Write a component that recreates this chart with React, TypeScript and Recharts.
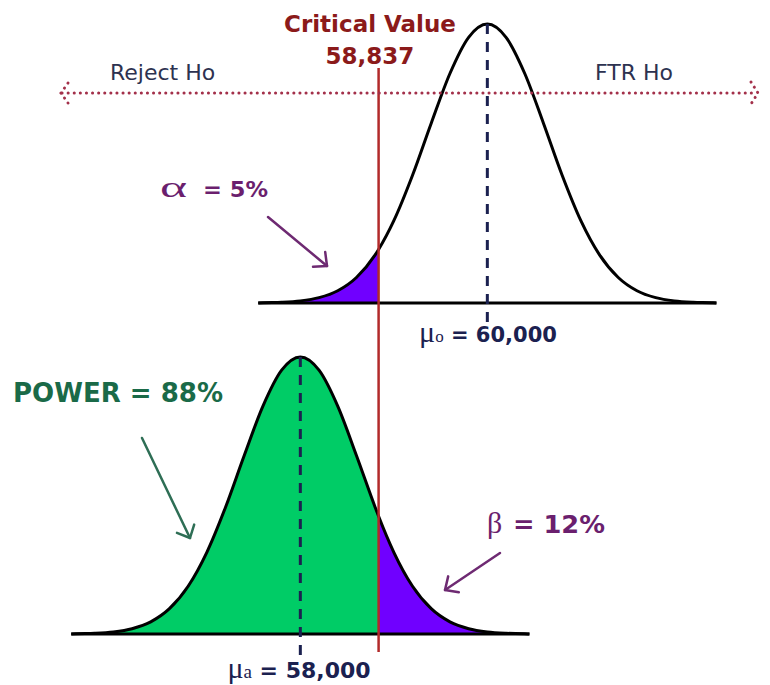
import { ComposedChart, Line, Area, XAxis, YAxis, ReferenceLine } from 'recharts';

// sample points (x in $, density as % of the peak)
const MU_0 = 60000;
const MU_A = 58000;
const CRITICAL = 58837;

const H0_X = [
  57550, 57600, 57800, 58000, 58200, 58400, 58600, 58800, 58837, 59000, 59200, 59400, 59600, 59800,
  60000, 60200, 60400, 60600, 60800, 61000, 61200, 61400, 61600, 61800, 62000, 62200, 62400, 62450,
];
const H0_DENSITY = [
  0, 0.09, 0.27, 0.76, 1.92, 4.39, 9.14, 17.24, 19.2, 29.5, 45.78, 64.44, 82.26, 95.23,
  100, 95.23, 82.26, 64.44, 45.78, 29.5, 17.24, 9.14, 4.39, 1.92, 0.76, 0.27, 0.09, 0,
];

const HA_X = [
  55550, 55600, 55800, 56000, 56200, 56400, 56600, 56800, 57000, 57200, 57400, 57600, 57800, 58000,
  58200, 58400, 58600, 58800, 58837, 59000, 59200, 59400, 59600, 59800, 60000, 60200, 60400, 60450,
];
const HA_DENSITY = [
  0, 0.09, 0.27, 0.76, 1.92, 4.39, 9.14, 17.24, 29.5, 45.78, 64.44, 82.26, 95.23, 100,
  95.23, 82.26, 64.44, 45.78, 42.5, 29.5, 17.24, 9.14, 4.39, 1.92, 0.76, 0.27, 0.09, 0,
];

const ALPHA_LABEL = '= 5%';
const BETA_LABEL = '= 12%';
const POWER_LABEL = 'POWER = 88%';

// layout (y values are counted up from the bottom of the 685px plot)
const W = 770;
const H = 685;
const TOP_BASE = 382;
const TOP_PEAK = 279;
const BOT_BASE = 51;
const BOT_PEAK = 277;

const PURPLE_FILL = '#7000ff';
const GREEN_FILL = '#00cc66';
const NAVY = '#1b2150';

const d0 = new Map(H0_X.map((x, i) => [x, H0_DENSITY[i]]));
const da = new Map(HA_X.map((x, i) => [x, HA_DENSITY[i]]));
const allX = Array.from(new Set([...H0_X, ...HA_X])).sort((a, b) => a - b);

const data = allX.map(x => {
  const top = d0.has(x) ? TOP_BASE + (d0.get(x) as number) * TOP_PEAK / 100 : null;
  const bot = da.has(x) ? BOT_BASE + (da.get(x) as number) * BOT_PEAK / 100 : null;
  return {
    x,
    top,
    bot,
    alpha: top !== null && x <= CRITICAL ? [TOP_BASE, top] : null,
    power: bot !== null && x <= CRITICAL ? [BOT_BASE, bot] : null,
    beta: bot !== null && x >= CRITICAL ? [BOT_BASE, bot] : null,
  };
});

function Arrow({ x1, y1, x2, y2, color }: { x1: number; y1: number; x2: number; y2: number; color: string }) {
  const a = Math.atan2(y1 - y2, x1 - x2);
  const len = 14;
  const spread = 0.75;
  const p1 = `${x2 + len * Math.cos(a + spread)},${y2 + len * Math.sin(a + spread)}`;
  const p2 = `${x2 + len * Math.cos(a - spread)},${y2 + len * Math.sin(a - spread)}`;
  return (
    <g stroke={color} strokeWidth={2.5} fill="none" strokeLinecap="round" strokeLinejoin="round">
      <line x1={x1} y1={y1} x2={x2} y2={y2} />
      <polyline points={`${p1} ${x2},${y2} ${p2}`} />
    </g>
  );
}

const sans = '"DejaVu Sans", Verdana, sans-serif';
const serif = '"Liberation Serif", "Times New Roman", serif';

function Annotations() {
  const dot = { stroke: '#a3304a', strokeWidth: 3, strokeDasharray: '0.1 6', strokeLinecap: 'round' as const, fill: 'none' };
  return (
    <svg width={W} height={H} style={{ position: 'absolute', left: 0, top: 0, pointerEvents: 'none' }}>
      <line x1={62} y1={93} x2={756} y2={93} {...dot} />
      <polyline points="751,82 758,93 751,104" {...dot} />
      <polyline points="68,83 61,93 68,103" {...dot} />

      <g fontFamily={sans} fontWeight="bold" fill="#8b1a1a" fontSize={23} textAnchor="middle">
        <text x={370} y={32}>Critical Value</text>
        <text x={370} y={64}>58,837</text>
      </g>

      <g fontFamily={sans} fill="#2d3250" fontSize={22}>
        <text x={110} y={80}>Reject Ho</text>
        <text x={595} y={80}>FTR Ho</text>
      </g>

      <g fill="#6b1f6e">
        <text x={160} y={197} fontFamily={serif} fontSize={30} textLength={27} lengthAdjust="spacingAndGlyphs">α</text>
        <text x={203} y={197} fontFamily={sans} fontWeight="bold" fontSize={22} textLength={65} lengthAdjust="spacingAndGlyphs">{ALPHA_LABEL}</text>
        <text x={487} y={533} fontFamily={serif} fontSize={30}>β</text>
        <text x={513} y={533} fontFamily={sans} fontWeight="bold" fontSize={25} textLength={92} lengthAdjust="spacingAndGlyphs">{BETA_LABEL}</text>
      </g>
      <Arrow x1={268} y1={217} x2={327} y2={266} color="#6e2a72" />
      <Arrow x1={500} y1={553} x2={445} y2={590} color="#6e2a72" />

      <text x={13} y={402} fontFamily={sans} fontWeight="bold" fontSize={26} fill="#1a6a48" textLength={210} lengthAdjust="spacingAndGlyphs">{POWER_LABEL}</text>
      <Arrow x1={142} y1={438} x2={190} y2={538} color="#2e6e55" />

      <text x={488} y={342} textAnchor="middle" fill={NAVY}>
        <tspan fontFamily={serif} fontSize={30}>μ</tspan>
        <tspan fontFamily={serif} fontSize={17}>o</tspan>
        <tspan fontFamily={sans} fontWeight="bold" fontSize={21}>{` = ${MU_0.toLocaleString('en-US')}`}</tspan>
      </text>
      <text x={299} y={678} textAnchor="middle" fill={NAVY}>
        <tspan fontFamily={serif} fontSize={30}>μ</tspan>
        <tspan fontFamily={serif} fontSize={19}>a</tspan>
        <tspan fontFamily={sans} fontWeight="bold" fontSize={22}>{` = ${MU_A.toLocaleString('en-US')}`}</tspan>
      </text>
    </svg>
  );
}

export default function App() {
  return (
    <div style={{ position: 'absolute', left: 0, top: 0, width: W, height: H, background: '#fff' }}>
      <ComposedChart width={W} height={H} data={data} margin={{ top: 0, right: 0, bottom: 0, left: 0 }}>
        <XAxis dataKey="x" type="number" domain={[54788, 63023]} allowDataOverflow hide />
        <YAxis type="number" domain={[0, H]} allowDataOverflow hide />

        <Area dataKey="alpha" type="monotone" stroke="none" fill={PURPLE_FILL} fillOpacity={1} dot={false} activeDot={false} connectNulls isAnimationActive={false} />
        <Area dataKey="power" type="monotone" stroke="none" fill={GREEN_FILL} fillOpacity={1} dot={false} activeDot={false} connectNulls isAnimationActive={false} />
        <Area dataKey="beta" type="monotone" stroke="none" fill={PURPLE_FILL} fillOpacity={1} dot={false} activeDot={false} connectNulls isAnimationActive={false} />

        <ReferenceLine segment={[{ x: H0_X[0], y: TOP_BASE }, { x: H0_X[H0_X.length - 1], y: TOP_BASE }]} stroke="#000" strokeWidth={3} />
        <ReferenceLine segment={[{ x: HA_X[0], y: BOT_BASE }, { x: HA_X[HA_X.length - 1], y: BOT_BASE }]} stroke="#000" strokeWidth={3} />

        <Line dataKey="top" type="monotone" stroke="#000" strokeWidth={3} dot={false} activeDot={false} connectNulls isAnimationActive={false} />
        <Line dataKey="bot" type="monotone" stroke="#000" strokeWidth={3} dot={false} activeDot={false} connectNulls isAnimationActive={false} />

        <ReferenceLine segment={[{ x: MU_0, y: TOP_BASE + TOP_PEAK }, { x: MU_0, y: H - 323 }]} stroke={NAVY} strokeWidth={3} strokeDasharray="10 8" />
        <ReferenceLine segment={[{ x: MU_A, y: BOT_BASE + BOT_PEAK }, { x: MU_A, y: H - 656 }]} stroke={NAVY} strokeWidth={3} strokeDasharray="10 8" />
        <ReferenceLine segment={[{ x: CRITICAL, y: H - 68 }, { x: CRITICAL, y: H - 652 }]} stroke="#b22a2a" strokeWidth={2.5} />
      </ComposedChart>
      <Annotations />
    </div>
  );
}
